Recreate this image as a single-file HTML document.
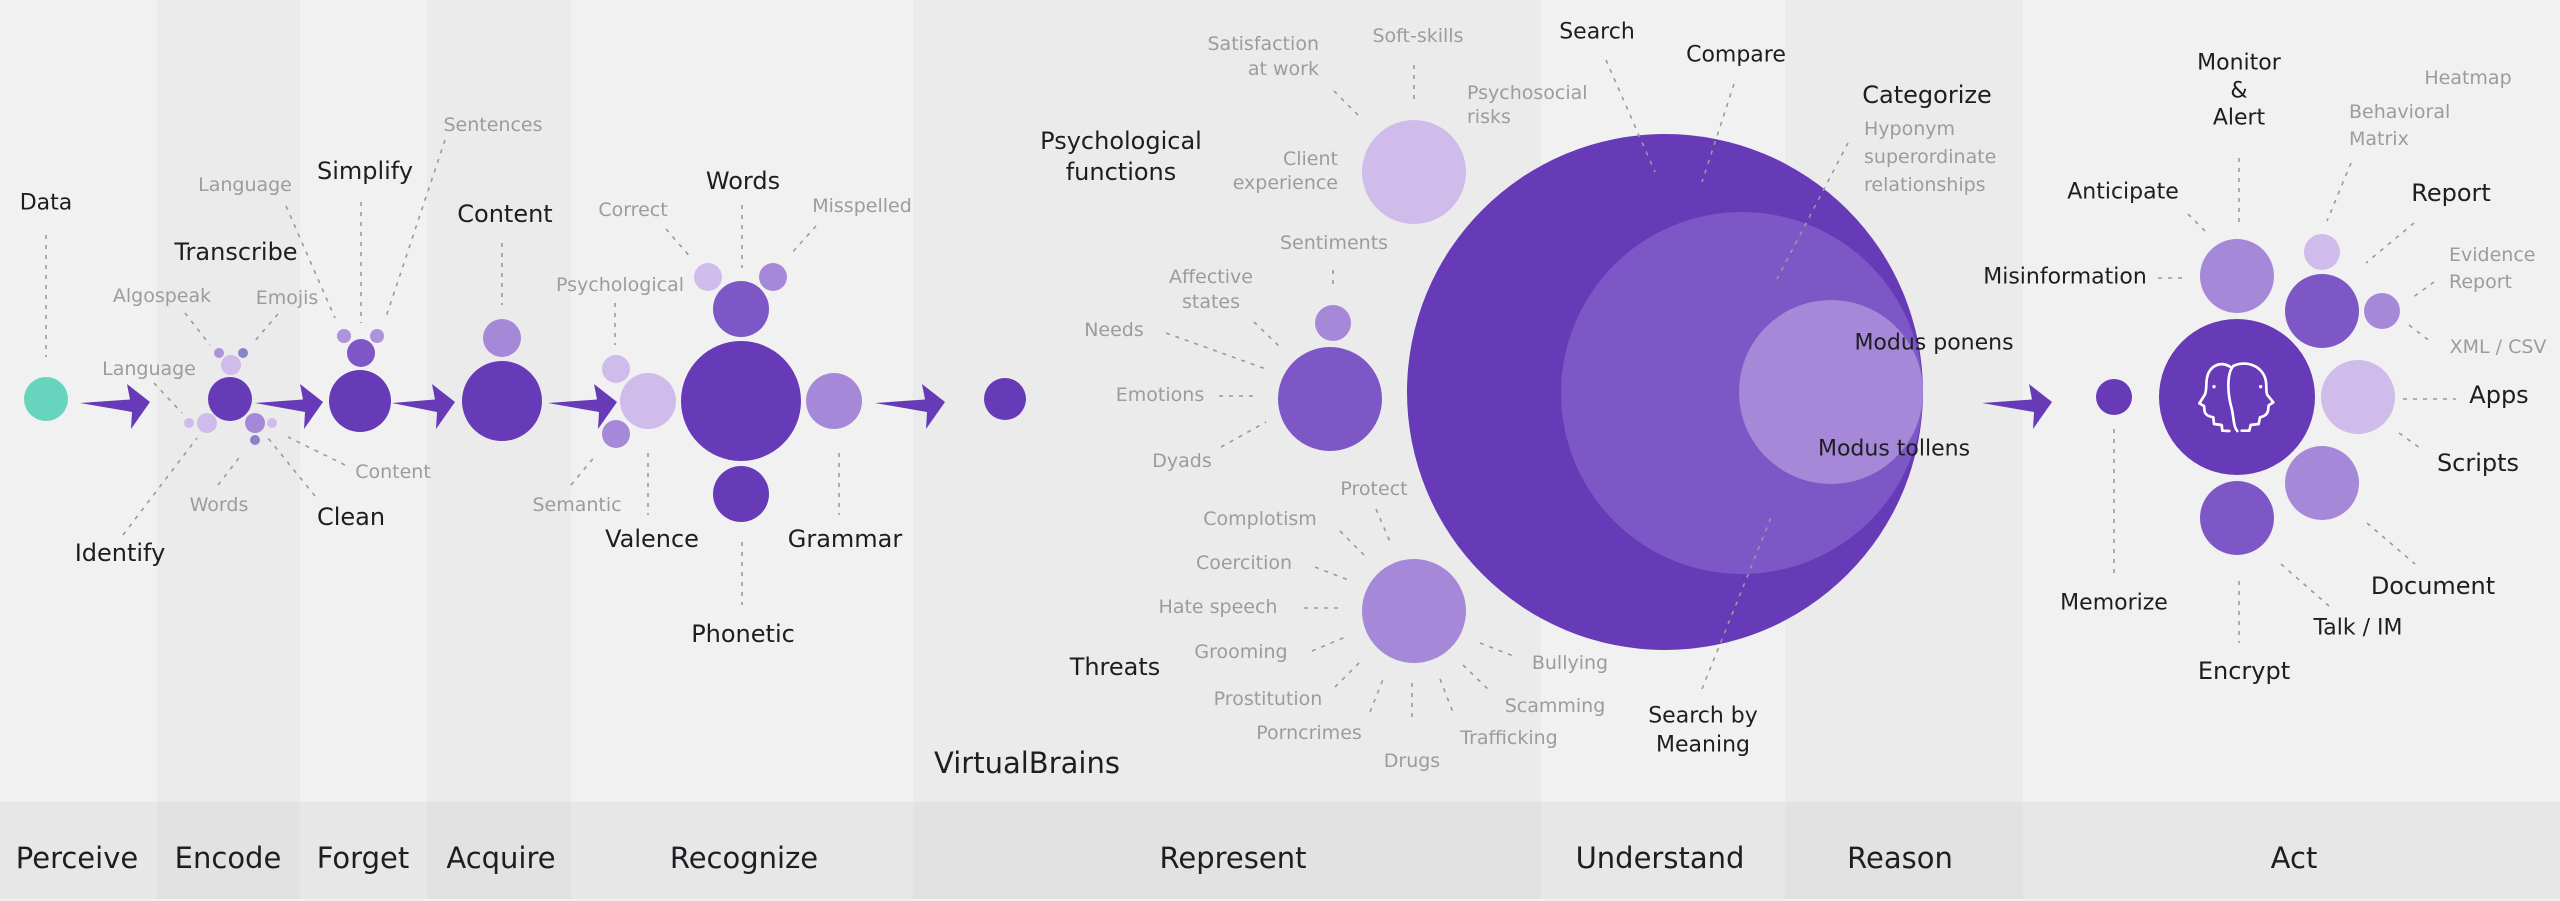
<!DOCTYPE html>
<html><head><meta charset="utf-8"><style>
html,body{margin:0;padding:0;background:#f1f1f1;}
svg{display:block;}
text{font-family:"DejaVu Sans","Liberation Sans",sans-serif;}
.b{fill:#1d1d22;font-size:24px;text-anchor:middle;dominant-baseline:central;}
.b22{fill:#1d1d22;font-size:22px;text-anchor:middle;dominant-baseline:central;}
.g{fill:#9c9c9c;font-size:19px;text-anchor:middle;dominant-baseline:central;}
.gl{fill:#9c9c9c;font-size:19px;text-anchor:start;dominant-baseline:central;}
.gr{fill:#9c9c9c;font-size:19px;text-anchor:end;dominant-baseline:central;}
.d{stroke:#9a9a9a;stroke-width:1.6;stroke-dasharray:4 6;fill:none;}
.t{fill:#1d1d22;font-size:29px;text-anchor:middle;}
.D{fill:#673ab7;}.M{fill:#7e57c6;}.L2{fill:#a688d8;}.L{fill:#cfbcea;}.B{fill:#8585c8;}.S{fill:#ae92dc;}
.ar{fill:#673ab7;}
</style></head><body>
<svg width="2560" height="901" viewBox="0 0 2560 901" xmlns="http://www.w3.org/2000/svg">
<!-- background bands -->
<rect x="0" y="0" width="2560" height="901" fill="#f1f1f1"/>
<rect x="157" y="0" width="143" height="802" fill="#ebebeb"/>
<rect x="427" y="0" width="144" height="802" fill="#ebebeb"/>
<rect x="913" y="0" width="628" height="802" fill="#ebebeb"/>
<rect x="1785" y="0" width="238" height="802" fill="#ebebeb"/>
<!-- bottom bar -->
<rect x="0" y="802" width="2560" height="97" fill="#e6e7e6"/>
<rect x="157" y="802" width="143" height="97" fill="#e2e2e2"/>
<rect x="427" y="802" width="144" height="97" fill="#e2e2e2"/>
<rect x="913" y="802" width="628" height="97" fill="#e2e2e2"/>
<rect x="1785" y="802" width="238" height="97" fill="#e2e2e2"/>

<!-- bottom labels -->
<text class="t" x="77" y="868">Perceive</text>
<text class="t" x="228" y="868">Encode</text>
<text class="t" x="363" y="868">Forget</text>
<text class="t" x="501" y="868">Acquire</text>
<text class="t" x="744" y="868">Recognize</text>
<text class="t" x="1233" y="868">Represent</text>
<text class="t" x="1660" y="868">Understand</text>
<text class="t" x="1900" y="868">Reason</text>
<text class="t" x="2294" y="868">Act</text>
<text class="t" x="1027" y="773">VirtualBrains</text>

<!-- arrows -->
<polygon class="ar" points="80,403 130,399.5 127,384 150,402 131,429 132,412"/>
<polygon class="ar" points="255,403 303,399.5 300,384 323,402 304,429 305,412"/>
<polygon class="ar" points="392,403 435,399.5 432,384 455,402 436,429 437,412"/>
<polygon class="ar" points="548,403 597,399.5 594,384 617,402 598,429 599,412"/>
<polygon class="ar" points="875,403 925,399.5 922,384 945,402 926,429 927,412"/>
<polygon class="ar" points="1982,403 2032,399.5 2029,384 2052,402 2033,429 2034,412"/>

<!-- PERCEIVE -->
<text class="b22" x="46" y="203">Data</text>
<line class="d" x1="46" y1="235" x2="46" y2="357"/>
<circle cx="46" cy="399" r="22" fill="#67d5bd"/>
<text class="b" x="120" y="553">Identify</text>
<line class="d" x1="123" y1="535" x2="197" y2="438"/>
<text class="g" x="149" y="369">Language</text>
<line class="d" x1="154" y1="383" x2="182" y2="413"/>

<!-- ENCODE -->
<circle class="D" cx="230" cy="399" r="22"/>
<circle class="L" cx="231" cy="365" r="10"/>
<circle class="S" cx="219" cy="353" r="5"/>
<circle class="B" cx="243" cy="353" r="5"/>
<circle class="L" cx="207" cy="423" r="10"/>
<circle class="L" cx="189" cy="423" r="5"/>
<circle class="L2" cx="255" cy="423" r="10"/>
<circle class="L" cx="272" cy="423" r="5"/>
<circle class="B" cx="255" cy="440" r="5"/>
<text class="g" x="162" y="296">Algospeak</text>
<line class="d" x1="185" y1="313" x2="210" y2="345"/>
<text class="g" x="287" y="298">Emojis</text>
<line class="d" x1="278" y1="314" x2="253" y2="343"/>
<text class="b" x="236" y="252">Transcribe</text>
<text class="g" x="245" y="185">Language</text>
<line class="d" x1="286" y1="206" x2="335" y2="318"/>
<text class="g" x="219" y="505">Words</text>
<line class="d" x1="218" y1="485" x2="242" y2="454"/>
<text class="b" x="351" y="517">Clean</text>
<line class="d" x1="315" y1="496" x2="268" y2="438"/>
<text class="g" x="393" y="472">Content</text>
<line class="d" x1="345" y1="465" x2="288" y2="437"/>

<!-- FORGET -->
<circle class="D" cx="360" cy="401" r="31"/>
<circle class="M" cx="361" cy="353" r="14"/>
<circle class="S" cx="344" cy="336" r="7"/>
<circle class="S" cx="377" cy="336" r="7"/>
<text class="b" x="365" y="171">Simplify</text>
<line class="d" x1="361" y1="202" x2="361" y2="323"/>
<text class="g" x="493" y="125">Sentences</text>
<line class="d" x1="445" y1="140" x2="385" y2="320"/>

<!-- ACQUIRE -->
<circle class="D" cx="502" cy="401" r="40"/>
<circle class="L2" cx="502" cy="338" r="19"/>
<text class="b" x="505" y="214">Content</text>
<line class="d" x1="502" y1="243" x2="502" y2="305"/>

<!-- RECOGNIZE -->
<circle class="D" cx="741" cy="401" r="60"/>
<circle class="M" cx="741" cy="309" r="28"/>
<circle class="L" cx="708" cy="277" r="14"/>
<circle class="L2" cx="773" cy="277" r="14"/>
<circle class="D" cx="741" cy="494" r="28"/>
<circle class="L2" cx="834" cy="401" r="28"/>
<circle class="L" cx="648" cy="401" r="28"/>
<circle class="L" cx="616" cy="369" r="14"/>
<circle class="L2" cx="616" cy="434" r="14"/>
<text class="b" x="743" y="181">Words</text>
<line class="d" x1="742" y1="205" x2="742" y2="268"/>
<text class="g" x="633" y="210">Correct</text>
<line class="d" x1="666" y1="229" x2="692" y2="259"/>
<text class="g" x="862" y="206">Misspelled</text>
<line class="d" x1="816" y1="226" x2="790" y2="255"/>
<text class="g" x="620" y="285">Psychological</text>
<line class="d" x1="615" y1="303" x2="615" y2="345"/>
<text class="g" x="577" y="505">Semantic</text>
<line class="d" x1="571" y1="485" x2="596" y2="455"/>
<text class="b" x="652" y="539">Valence</text>
<line class="d" x1="648" y1="453" x2="648" y2="515"/>
<text class="b" x="845" y="539">Grammar</text>
<line class="d" x1="839" y1="453" x2="839" y2="515"/>
<text class="b" x="743" y="634">Phonetic</text>
<line class="d" x1="742" y1="542" x2="742" y2="605"/>

<!-- REPRESENT -->
<circle class="D" cx="1005" cy="399" r="21"/>
<text class="b" x="1121" y="141">Psychological</text>
<text class="b" x="1121" y="172">functions</text>
<circle class="L" cx="1414" cy="172" r="52"/>
<text class="gr" x="1319" y="44">Satisfaction</text>
<text class="gr" x="1319" y="69">at work</text>
<line class="d" x1="1334" y1="91" x2="1361" y2="118"/>
<text class="g" x="1418" y="36">Soft-skills</text>
<line class="d" x1="1414" y1="65" x2="1414" y2="103"/>
<text class="gl" x="1467" y="93">Psychosocial</text>
<text class="gl" x="1467" y="117">risks</text>
<text class="gr" x="1338" y="159">Client</text>
<text class="gr" x="1338" y="183">experience</text>
<text class="g" x="1334" y="243">Sentiments</text>
<line class="d" x1="1333" y1="270" x2="1333" y2="290"/>
<circle class="L2" cx="1333" cy="323" r="18"/>
<circle class="M" cx="1330" cy="399" r="52"/>
<text class="g" x="1211" y="277">Affective</text>
<text class="g" x="1211" y="302">states</text>
<line class="d" x1="1254" y1="322" x2="1282" y2="349"/>
<text class="g" x="1114" y="330">Needs</text>
<line class="d" x1="1166" y1="333" x2="1266" y2="369"/>
<text class="g" x="1160" y="395">Emotions</text>
<line class="d" x1="1219" y1="396" x2="1259" y2="396"/>
<text class="g" x="1182" y="461">Dyads</text>
<line class="d" x1="1221" y1="447" x2="1266" y2="422"/>

<circle class="L2" cx="1414" cy="611" r="52"/>
<text class="g" x="1374" y="489">Protect</text>
<line class="d" x1="1376" y1="509" x2="1391" y2="544"/>
<text class="g" x="1260" y="519">Complotism</text>
<line class="d" x1="1340" y1="531" x2="1368" y2="559"/>
<text class="g" x="1244" y="563">Coercition</text>
<line class="d" x1="1315" y1="567" x2="1351" y2="581"/>
<text class="g" x="1218" y="607">Hate speech</text>
<line class="d" x1="1304" y1="608" x2="1344" y2="608"/>
<text class="g" x="1241" y="652">Grooming</text>
<line class="d" x1="1312" y1="651" x2="1348" y2="636"/>
<text class="g" x="1268" y="699">Prostitution</text>
<line class="d" x1="1335" y1="687" x2="1362" y2="660"/>
<text class="g" x="1309" y="733">Porncrimes</text>
<line class="d" x1="1370" y1="712" x2="1384" y2="677"/>
<text class="g" x="1412" y="761">Drugs</text>
<line class="d" x1="1412" y1="683" x2="1412" y2="722"/>
<text class="g" x="1509" y="738">Trafficking</text>
<line class="d" x1="1440" y1="679" x2="1454" y2="715"/>
<text class="g" x="1555" y="706">Scamming</text>
<line class="d" x1="1463" y1="665" x2="1491" y2="692"/>
<text class="g" x="1570" y="663">Bullying</text>
<line class="d" x1="1480" y1="643" x2="1516" y2="657"/>
<text class="b" x="1115" y="667">Threats</text>

<!-- UNDERSTAND / REASON -->
<circle class="D" cx="1665" cy="392" r="258"/>
<circle class="M" cx="1742" cy="393" r="181"/>
<circle class="L2" cx="1831" cy="392" r="92"/>
<text class="b22" x="1597" y="32">Search</text>
<line class="d" x1="1606" y1="60" x2="1655" y2="172"/>
<text class="b22" x="1736" y="55">Compare</text>
<line class="d" x1="1734" y1="84" x2="1702" y2="182"/>
<text class="b" x="1927" y="95">Categorize</text>
<line class="d" x1="1848" y1="143" x2="1777" y2="279"/>
<text class="gl" x="1864" y="129">Hyponym</text>
<text class="gl" x="1864" y="157">superordinate</text>
<text class="gl" x="1864" y="185">relationships</text>
<text class="b22" x="1934" y="343">Modus ponens</text>
<text class="b22" x="1894" y="449">Modus tollens</text>
<text class="b22" x="1703" y="716">Search by</text>
<text class="b22" x="1703" y="745">Meaning</text>
<line class="d" x1="1702" y1="689" x2="1772" y2="515"/>

<!-- ACT -->
<circle class="D" cx="2114" cy="397" r="18"/>
<text class="b22" x="2114" y="603">Memorize</text>
<line class="d" x1="2114" y1="429" x2="2114" y2="573"/>
<circle class="D" cx="2237" cy="397" r="78"/>
<circle class="L2" cx="2237" cy="276" r="37"/>
<circle class="L" cx="2322" cy="252" r="18"/>
<circle class="M" cx="2322" cy="311" r="37"/>
<circle class="L2" cx="2382" cy="311" r="18"/>
<circle class="L" cx="2358" cy="397" r="37"/>
<circle class="L2" cx="2322" cy="483" r="37"/>
<circle class="M" cx="2237" cy="518" r="37"/>
<!-- brain icon -->
<g transform="translate(2180,340) scale(0.3333)" fill="none" stroke="#ffffff" stroke-width="8" stroke-linejoin="round" stroke-linecap="round">
<path d="M150,80 C120,62 85,78 80,120 C78,140 80,155 74,165 L58,190 L72,198 L74,215 C78,228 92,230 100,232 L102,252 L125,255 L127,272 L148,273"/>
<path d="M160,78 C195,60 250,75 258,125 C260,150 258,158 262,165 L280,187 L266,196 L264,213 C260,228 246,230 240,232 L236,252 L212,255 L208,272 L185,272"/>
<path d="M160,78 C140,100 142,160 155,205 C162,235 160,260 172,273"/>
<circle cx="102" cy="140" r="5" fill="#ffffff" stroke="none"/>
<circle cx="242" cy="140" r="5" fill="#ffffff" stroke="none"/>
</g>
<text class="b22" x="2239" y="63">Monitor</text>
<text class="b22" x="2239" y="91">&amp;</text>
<text class="b22" x="2239" y="118">Alert</text>
<line class="d" x1="2239" y1="158" x2="2239" y2="222"/>
<text class="b22" x="2123" y="192">Anticipate</text>
<line class="d" x1="2188" y1="214" x2="2208" y2="234"/>
<text class="g" x="2468" y="78">Heatmap</text>
<text class="gl" x="2349" y="112">Behavioral</text>
<text class="gl" x="2349" y="139">Matrix</text>
<line class="d" x1="2351" y1="163" x2="2327" y2="221"/>
<text class="b" x="2451" y="193">Report</text>
<line class="d" x1="2414" y1="223" x2="2366" y2="263"/>
<text class="gl" x="2449" y="255">Evidence</text>
<text class="gl" x="2449" y="282">Report</text>
<line class="d" x1="2434" y1="282" x2="2412" y2="298"/>
<text class="g" x="2498" y="347">XML / CSV</text>
<line class="d" x1="2409" y1="325" x2="2431" y2="342"/>
<text class="b22" x="2065" y="277">Misinformation</text>
<line class="d" x1="2158" y1="278" x2="2187" y2="278"/>
<text class="b" x="2499" y="395">Apps</text>
<line class="d" x1="2403" y1="399" x2="2456" y2="399"/>
<text class="b" x="2478" y="463">Scripts</text>
<line class="d" x1="2399" y1="433" x2="2420" y2="448"/>
<text class="b" x="2433" y="586">Document</text>
<line class="d" x1="2367" y1="523" x2="2415" y2="564"/>
<text class="b22" x="2358" y="628">Talk / IM</text>
<line class="d" x1="2281" y1="564" x2="2329" y2="606"/>
<text class="b" x="2244" y="671">Encrypt</text>
<line class="d" x1="2239" y1="581" x2="2239" y2="643"/>
</svg>
</body></html>
